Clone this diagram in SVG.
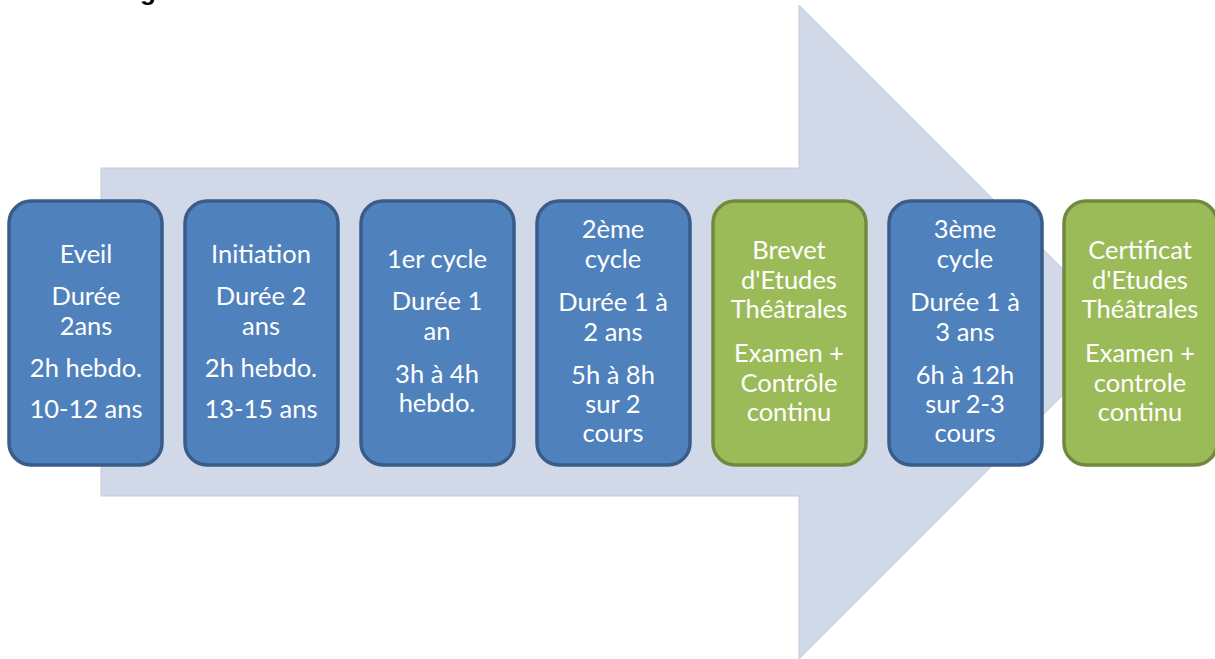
<svg xmlns="http://www.w3.org/2000/svg" width="1215" height="659" viewBox="0 0 1215 659">
<style>
  .bg { fill: #ffffff; }
  .arrow { fill: #D1D8E8; stroke: #C3CAD8; stroke-width: 1; }
  .blue { fill: #4F81BD; stroke: #385D8A; stroke-width: 3.5; }
  .green { fill: #9BBB59; stroke: #71893F; stroke-width: 3.5; }
  .t { font-family: Lato, "Open Sans", "Liberation Sans", sans-serif; font-size: 25.5px; fill: #ffffff; text-anchor: middle; }
  .hdr { font-family: "Liberation Sans", Arial, sans-serif; font-size: 26px; font-weight: bold; fill: #000000; }
</style>
<rect class="bg" x="0" y="0" width="1215" height="659"/>
<text class="hdr" x="140" y="0">g</text>
<g id="arrow">
  <polygon class="arrow" points="101,168 799,168 799,5 1126,332 799,659 799,496 101,496"/>
</g>
<g id="connectors"></g>
<g id="n1">
  <rect class="blue" x="9" y="201" width="153" height="264" rx="22"/>
  <text class="t" x="86" y="263">Eveil</text>
  <text class="t" x="86" y="305">Durée</text>
  <text class="t" x="86" y="335">2ans</text>
  <text class="t" x="86" y="377">2h hebdo.</text>
  <text class="t" x="86" y="418">10-12 ans</text>
</g>
<g id="n2">
  <rect class="blue" x="185" y="201" width="153" height="264" rx="22"/>
  <text class="t" x="261" y="263">Initiation</text>
  <text class="t" x="261" y="305">Durée 2</text>
  <text class="t" x="261" y="335">ans</text>
  <text class="t" x="261" y="377">2h hebdo.</text>
  <text class="t" x="261" y="418">13-15 ans</text>
</g>
<g id="n3">
  <rect class="blue" x="361" y="201" width="153" height="264" rx="22"/>
  <text class="t" x="437" y="268">1er cycle</text>
  <text class="t" x="437" y="310">Durée 1</text>
  <text class="t" x="437" y="340">an</text>
  <text class="t" x="437" y="383">3h à 4h</text>
  <text class="t" x="437" y="412">hebdo.</text>
</g>
<g id="n4">
  <rect class="blue" x="537" y="201" width="153" height="264" rx="22"/>
  <text class="t" x="613" y="238">2ème</text>
  <text class="t" x="613" y="268">cycle</text>
  <text class="t" x="613" y="311">Durée 1 à</text>
  <text class="t" x="613" y="341">2 ans</text>
  <text class="t" x="613" y="384">5h à 8h</text>
  <text class="t" x="613" y="413">sur 2</text>
  <text class="t" x="613" y="442">cours</text>
</g>
<g id="n5">
  <rect class="green" x="713" y="201" width="153" height="264" rx="22"/>
  <text class="t" x="789" y="259">Brevet</text>
  <text class="t" x="789" y="289">d'Etudes</text>
  <text class="t" x="789" y="318">Théâtrales</text>
  <text class="t" x="789" y="362">Examen +</text>
  <text class="t" x="789" y="392">Contrôle</text>
  <text class="t" x="789" y="421">continu</text>
</g>
<g id="n6">
  <rect class="blue" x="889" y="201" width="153" height="264" rx="22"/>
  <text class="t" x="965" y="238">3ème</text>
  <text class="t" x="965" y="268">cycle</text>
  <text class="t" x="965" y="311">Durée 1 à</text>
  <text class="t" x="965" y="341">3 ans</text>
  <text class="t" x="965" y="384">6h à 12h</text>
  <text class="t" x="965" y="413">sur 2-3</text>
  <text class="t" x="965" y="442">cours</text>
</g>
<g id="n7">
  <rect class="green" x="1064" y="201" width="153" height="264" rx="22"/>
  <text class="t" x="1140" y="259">Certificat</text>
  <text class="t" x="1140" y="289">d'Etudes</text>
  <text class="t" x="1140" y="318">Théâtrales</text>
  <text class="t" x="1140" y="362">Examen +</text>
  <text class="t" x="1140" y="392">controle</text>
  <text class="t" x="1140" y="421">continu</text>
</g>
</svg>
